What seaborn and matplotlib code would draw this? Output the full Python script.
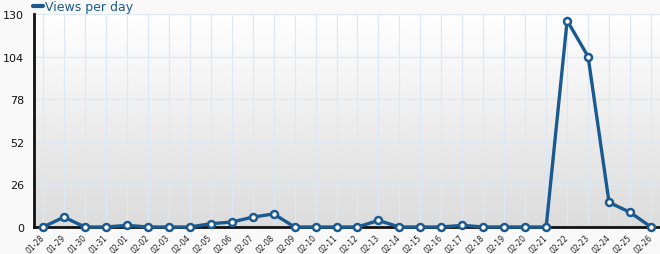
import numpy as np
import pandas as pd
import matplotlib
matplotlib.use("Agg")
import matplotlib.pyplot as plt
import seaborn as sns
from matplotlib.colors import LinearSegmentedColormap

dates = ["01-28", "01-29", "01-30", "01-31", "02-01", "02-02", "02-03", "02-04", "02-05", "02-06",
         "02-07", "02-08", "02-09", "02-10", "02-11", "02-12", "02-13", "02-14", "02-15", "02-16",
         "02-17", "02-18", "02-19", "02-20", "02-21", "02-22", "02-23", "02-24", "02-25", "02-26"]
views = [0, 6, 0, 0, 1, 0, 0, 0, 2, 3,
         6, 8, 0, 0, 0, 0, 4, 0, 0, 0,
         1, 0, 0, 0, 0, 126, 104, 15, 9, 0]
yticks = [0, 26, 52, 78, 104, 130]

sns.set_theme(style="white")
plt.rcParams['font.family'] = ['DejaVu Sans']

df = pd.DataFrame({"idx": np.arange(len(dates)), "views": views})

fig = plt.figure(figsize=(6.6, 2.55), dpi=100)
fig.patch.set_facecolor("#f9f9f9")
ax = fig.add_axes([34/660, 27/255, 626/660, 213/255])

# gradient background (white at top, light grey at bottom)
grad = np.linspace(0, 1, 256).reshape(-1, 1)
cmap = LinearSegmentedColormap.from_list("g", ["#ffffff", "#dcdcdc"])
ax.imshow(grad, aspect="auto", cmap=cmap, extent=[-0.43, 29.43, 0, 130], origin="upper", zorder=0)

line_color = "#1b5a8e"
sns.lineplot(data=df, x="idx", y="views", ax=ax, color=line_color, linewidth=2.4,
             marker="o", markersize=5, markerfacecolor="white", markeredgecolor=line_color,
             markeredgewidth=1.8, zorder=5, label="Views per day", clip_on=False)

ax.set_xlim(-0.43, 29.43)
ax.set_ylim(0, 130)
ax.set_xticks(np.arange(len(dates)))
ax.set_xticklabels(dates, rotation=45, ha="right", va="center", rotation_mode="anchor",
                   fontsize=5.5, color="#222222")
ax.set_yticks(yticks)
ax.set_yticklabels([str(v) for v in yticks], fontsize=8, color="#111111")
ax.set_xlabel("")
ax.set_ylabel("")
ax.grid(True, color="#dde8f6", linewidth=0.9, zorder=1)
ax.set_axisbelow(True)
for s in ["top", "right"]:
    ax.spines[s].set_visible(False)
ax.spines["left"].set_color("#111111")
ax.spines["left"].set_linewidth(2)
ax.spines["bottom"].set_color("#111111")
ax.spines["bottom"].set_linewidth(2)
ax.tick_params(axis="y", direction="out", length=5, width=1.5, color="#111111", pad=2)
ax.tick_params(axis="x", direction="out", length=4, width=1.5, color="#111111", pad=2)

leg = ax.legend(loc="lower left", bbox_to_anchor=(33/660, 241/255), bbox_transform=fig.transFigure,
                frameon=False, fontsize=9,
                handlelength=0.8, handletextpad=0.15, borderpad=0, borderaxespad=0)
for t in leg.get_texts():
    t.set_color("#1b5a8e")
for h in leg.get_lines():
    h.set_marker("")
    h.set_linewidth(3)

fig.savefig("out.png", dpi=100, facecolor=fig.get_facecolor())
